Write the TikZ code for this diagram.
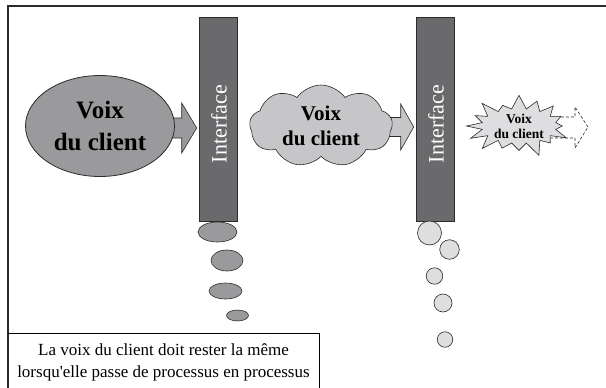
\documentclass[tikz,border=0pt]{standalone}
\usepackage{fontspec}
\setmainfont{Liberation Serif}
\usepackage{tikz}
\usetikzlibrary{calc,positioning,shapes.geometric,shapes.symbols,backgrounds}
\definecolor{linec}{HTML}{2B2B2B}
\definecolor{barc}{HTML}{6A6A6D}
\definecolor{greya}{HTML}{9A9A9C}
\definecolor{greyb}{HTML}{C6C6C8}
\definecolor{greyc}{HTML}{DEDEE0}
\tikzset{
  frame/.style={draw=linec,line width=1.6pt},
  bar/.style={draw=linec,fill=barc,line width=0.6pt,minimum width=38pt,minimum height=204pt,inner sep=0pt},
  barlab/.style={rotate=90,text=white,inner sep=0pt,font=\fontsize{22}{24}\selectfont},
  fatarr/.style={draw=linec,line width=0.6pt,line join=miter},
  bubble/.style={ellipse,draw=linec,line width=0.6pt,fill=greya,inner sep=0pt},
  dot/.style={circle,draw=linec,line width=0.6pt,fill=greyc,inner sep=0pt}
}
\begin{document}
\begin{tikzpicture}[x=1pt,y=-1pt]
\useasboundingbox (0,0) rectangle (606,388);
% cadre
\draw[frame] (606,6) -- (8,6) -- (8,390);
% trois etapes
\node[ellipse,draw=linec,line width=0.8pt,fill=greya,minimum width=149pt,minimum height=101pt,inner sep=0pt,align=center,font=\fontsize{25}{32}\selectfont\bfseries] (voix1) at (100,126) {Voix\\du client};
\node[bar] (bar1) at (218,119) {};
\node[barlab] (lab1) at (219,124) {Interface};
\node[cloud,cloud puffs=9,cloud puff arc=110,cloud ignores aspect,draw=linec,line width=0.6pt,fill=greyb,minimum width=143pt,minimum height=82pt,inner sep=0pt,align=center,font=\fontsize{21}{25}\selectfont\bfseries] (voix2) at (321,126) {Voix\\du client};
\node[bar] (bar2) at (435,119) {};
\node[barlab] (lab2) at (436,124) {Interface};
\node[starburst,starburst points=16,starburst point height=15pt,random starburst=40,draw=linec,line width=0.6pt,fill=greyc,minimum width=105pt,minimum height=60pt,inner sep=0pt,align=center,font=\fontsize{13.5}{15}\selectfont\bfseries] (voix3) at (519,126) {Voix\\du client};
% fleches
\coordinate (t1) at ($(bar1.west |- voix1.center)+(-2,2)$);
\coordinate (t2) at ($(bar2.west |- voix2.center)+(-2,1)$);
\coordinate (t3) at (588,127);
\begin{scope}[on background layer]
\draw[fatarr,fill=greya] (t1) -- ++(-15,-25) -- ++(0,15) -- ++(-40,0) -- ++(0,20) -- ++(40,0) -- ++(0,15) -- cycle;
\draw[fatarr,fill=greyb] (t2) -- ++(-13,-23) -- ++(0,13.5) -- ++(-40,0) -- ++(0,19) -- ++(40,0) -- ++(0,13.5) -- cycle;
\draw[fatarr,densely dashed,fill=white] (t3) -- ++(-13,-20) -- ++(0,10) -- ++(-30,0) -- ++(0,21) -- ++(30,0) -- ++(0,10) -- cycle;
\end{scope}
% bulles
\node[bubble,minimum width=39pt,minimum height=20pt] (b1) at (217.5,232) {};
\node[bubble,minimum width=32pt,minimum height=21pt] (b2) at (227,260.5) {};
\node[bubble,minimum width=33pt,minimum height=16pt] (b3) at (225.5,291) {};
\node[bubble,minimum width=22pt,minimum height=11pt] (b4) at (237.5,315.5) {};
\node[dot,minimum size=24pt] (c1) at (429.5,233) {};
\node[dot,minimum size=19.5pt] (c2) at (449.5,249.5) {};
\node[dot,minimum size=16.5pt] (c3) at (434.5,276) {};
\node[dot,minimum size=18pt] (c4) at (443,303) {};
\node[dot,minimum size=15.5pt] (c5) at (445,339.5) {};
% legende
\draw[line width=0.8pt] (8,333) -- (319,333) -- (319,390);
\node[align=center,font=\fontsize{17}{22}\selectfont] (legende) at (163.5,362) {La voix du client doit rester la même\\lorsqu\textquotesingle elle passe de processus en processus};
\end{tikzpicture}
\end{document}
